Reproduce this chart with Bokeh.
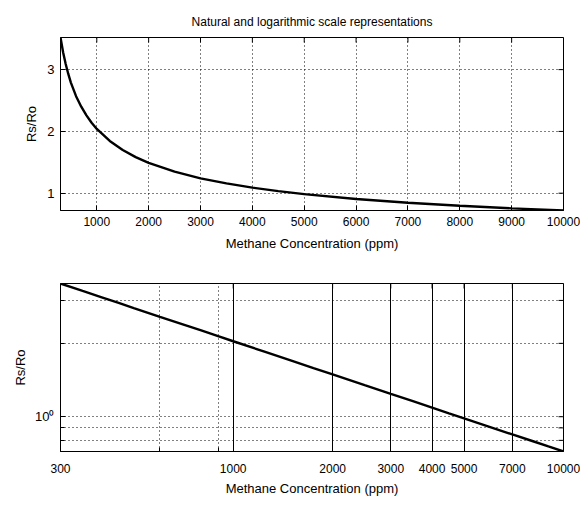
import math
from bokeh.plotting import figure
from bokeh.layouts import column
from bokeh.models import Range1d, FixedTicker
from bokeh.embed import file_html
from bokeh.resources import INLINE

# Values (Rs/Ro vs methane concentration)
conc = [300, 350, 400, 450, 500, 600, 700, 800, 900, 1000, 1250, 1500, 1750,
        2000, 2500, 3000, 3500, 4000, 4500, 5000, 6000, 7000, 8000, 9000, 10000]
rs_ro = [3.52, 3.28, 3.09, 2.93, 2.79, 2.57, 2.40, 2.26, 2.14, 2.04, 1.845, 1.70,
         1.584, 1.492, 1.348, 1.241, 1.158, 1.090, 1.033, 0.985, 0.907, 0.846,
         0.797, 0.755, 0.720]

title_text = "Natural and logarithmic scale representations"
x_label = "Methane Concentration (ppm)"
y_label = "Rs/Ro"

lin_xticks = [1000, 2000, 3000, 4000, 5000, 6000, 7000, 8000, 9000, 10000]
lin_yticks = [1, 2, 3]
log_xticks = [300, 1000, 2000, 3000, 4000, 5000, 7000, 10000]
log_xminor = [600, 900]
log_yticks = [1]
log_yminor = [0.8, 0.9, 2, 3]
log_ylabels = {1: "10\u2070"}

FONT = "Liberation Sans"
X0, X1 = 300, 10000
Y0, Y1 = 0.72, 3.52


def style_axis(ax, size="12px"):
    ax.major_label_text_font = FONT
    ax.major_label_text_font_size = size
    ax.major_label_text_color = "black"
    ax.axis_label_text_font = FONT
    ax.axis_label_text_font_size = "13px"
    ax.axis_label_text_font_style = "normal"
    ax.axis_label_text_color = "black"
    ax.major_tick_in = 5
    ax.major_tick_out = 0
    ax.minor_tick_in = 0
    ax.minor_tick_out = 0
    ax.axis_line_color = "black"
    ax.major_tick_line_color = "black"


def mirror_ticks(p, xt, yt):
    # tick marks on the top and right frame edges (half of each dash is clipped)
    p.scatter(xt, [Y1] * len(xt), marker="dash", size=10, angle=math.pi / 2,
              line_color="black", line_width=1)
    p.scatter([X1] * len(yt), yt, marker="dash", size=10,
              line_color="black", line_width=1)


# ---------- top: linear ----------
p1 = figure(width=580, height=258, output_backend="svg", toolbar_location=None,
            x_range=Range1d(X0, X1), y_range=Range1d(Y0, Y1),
            min_border_left=60, min_border_right=17, min_border_top=37,
            min_border_bottom=48)
p1.title.text = title_text
p1.title.align = "center"
p1.title.text_font = FONT
p1.title.text_font_size = "12px"
p1.title.text_font_style = "normal"
p1.title.text_color = "black"
p1.title.standoff = 18
p1.line(conc, rs_ro, line_color="black", line_width=2.4)
p1.xaxis.ticker = FixedTicker(ticks=lin_xticks)
p1.yaxis.ticker = FixedTicker(ticks=lin_yticks)
p1.xaxis.axis_label = x_label
p1.yaxis.axis_label = y_label
for ax in p1.xaxis + p1.yaxis:
    style_axis(ax)
p1.xaxis.major_label_standoff = 6
p1.xaxis.axis_label_standoff = 7
p1.yaxis.major_label_standoff = 6
p1.yaxis.axis_label_standoff = 5
p1.yaxis.major_label_text_font_size = "13px"
for g in (p1.xgrid, p1.ygrid):
    g.grid_line_color = "black"
    g.grid_line_dash = "1 3"
    g.grid_line_width = 1
p1.outline_line_color = "black"
p1.outline_line_width = 1
p1.background_fill_color = "white"
p1.border_fill_color = "white"
mirror_ticks(p1, lin_xticks, lin_yticks)

# ---------- bottom: log-log ----------
p2 = figure(width=580, height=240, output_backend="svg", toolbar_location=None,
            x_axis_type="log", y_axis_type="log",
            x_range=Range1d(X0, X1), y_range=Range1d(Y0, Y1),
            min_border_left=60, min_border_right=17, min_border_top=25,
            min_border_bottom=42)
p2.line(conc, rs_ro, line_color="black", line_width=2.4)
p2.xaxis.ticker = FixedTicker(ticks=log_xticks, minor_ticks=log_xminor)
p2.yaxis.ticker = FixedTicker(ticks=log_yticks, minor_ticks=log_yminor)
p2.yaxis.major_label_overrides = log_ylabels
p2.xaxis.axis_label = x_label
p2.yaxis.axis_label = y_label
for ax in p2.xaxis + p2.yaxis:
    style_axis(ax)
p2.xaxis.minor_tick_in = 4
p2.yaxis.minor_tick_in = 4
p2.xaxis.major_label_standoff = 12
p2.xaxis.axis_label_standoff = 5
p2.yaxis.major_label_standoff = 6
p2.yaxis.axis_label_standoff = 4
p2.yaxis.major_label_text_font_size = "13px"
p2.xgrid.grid_line_color = "black"
p2.xgrid.grid_line_width = 1
p2.xgrid.minor_grid_line_color = "black"
p2.xgrid.minor_grid_line_dash = "1 3"
p2.ygrid.grid_line_color = "black"
p2.ygrid.grid_line_dash = "1 3"
p2.ygrid.minor_grid_line_color = "black"
p2.ygrid.minor_grid_line_dash = "1 3"
p2.outline_line_color = "black"
p2.background_fill_color = "white"
p2.border_fill_color = "white"
mirror_ticks(p2, log_xticks, log_yticks + log_yminor)

layout = column(p1, p2, spacing=0)
open("out.html", "w").write(file_html(layout, INLINE))
